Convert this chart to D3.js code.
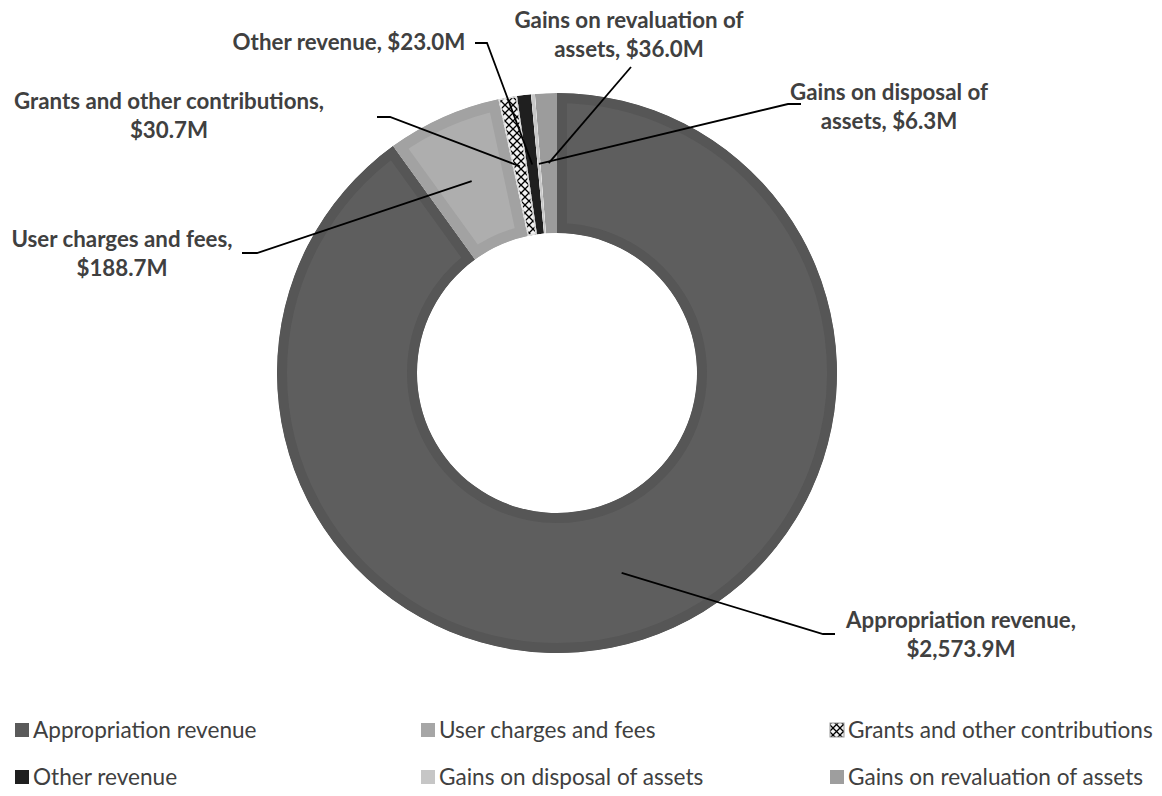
<!DOCTYPE html>
<html>
<head>
<meta charset="utf-8">
<script src="https://cdn.jsdelivr.net/npm/d3@7"></script>
<style>
  body { margin: 0; background: #fff; }
  svg { display: block; }
  text { font-family: Lato, "Open Sans", sans-serif; fill: #404040; }
</style>
</head>
<body>
<svg id="chart" width="1162" height="796"></svg>
<script>
// Revenue composition ($M)
const categories = [
  "Appropriation revenue",
  "User charges and fees",
  "Grants and other contributions",
  "Other revenue",
  "Gains on disposal of assets",
  "Gains on revaluation of assets"
];
const values = [2573.9, 188.7, 30.7, 23.0, 6.3, 36.0];
// words of each data label that go on its first line
const firstLineWords = [2, 4, 4, 3, 4, 4];

const fills   = ["#5e5e5e", "#aeaeae", "url(#hatch)", "#1f1f1f", "#c8c8c8", "#9c9c9c"];
const borders = ["#565656", "#a2a2a2", "#e0e0e0", "#1f1f1f", "#c8c8c8", "#9c9c9c"];
const borderWidths = [20, 22, 3, 0, 0, 0];
const legendFills = ["#5a5a5a", "#a6a6a6", "url(#hatchSmall)", "#1f1f1f", "#c6c6c6", "#9e9e9e"];

const svg = d3.select("#chart");
const cx = 557, cy = 373, rOuter = 280, rInner = 140;

// cross-hatch patterns
const defs = svg.append("defs");
function hatch(id, s) {
  const p = defs.append("pattern").attr("id", id)
    .attr("patternUnits", "userSpaceOnUse").attr("width", s).attr("height", s);
  p.append("rect").attr("width", s).attr("height", s).attr("fill", "#f2f2f2");
  p.append("path").attr("d", `M0,0L${s},${s}M${s},0L0,${s}`)
    .attr("stroke", "#000").attr("stroke-width", 1.3);
}
hatch("hatch", 8);
hatch("hatchSmall", 7);

const fmt = d3.format(",.1f");
const pie = d3.pie().sort(null).value(d => d).startAngle(0).endAngle(2 * Math.PI);
const arcs = pie(values);
const arc = d3.arc().innerRadius(rInner).outerRadius(rOuter);
const midArc = d3.arc().innerRadius((rInner + rOuter) / 2).outerRadius((rInner + rOuter) / 2);

const g = svg.append("g").attr("transform", `translate(${cx},${cy})`);

arcs.forEach((a, i) => {
  defs.append("clipPath").attr("id", "clip" + i)
    .append("path").attr("d", arc(a));
  g.append("path")
    .attr("d", arc(a))
    .attr("fill", fills[i])
    .attr("stroke", borderWidths[i] ? borders[i] : "none")
    .attr("stroke-width", borderWidths[i])
    .attr("clip-path", `url(#clip${i})`);
});

// data label placement: first baseline and leader-line elbow points
const labelLayout = [
  { x: 961, y: 628, elbow: [[835, 634], [823, 634]] },
  { x: 122, y: 247, elbow: [[242, 253], [257, 253]] },
  { x: 169, y: 109, elbow: [[377, 117], [390, 117]] },
  { x: 349, y: 50,  elbow: [[475, 43], [487, 43]] },
  { x: 889, y: 100, elbow: [[801, 104], [788, 104]] },
  { x: 629, y: 28,  elbow: [[631, 67]] }
];
const lineGap = 28.5;

arcs.forEach((a, i) => {
  const L = labelLayout[i];
  const c = midArc.centroid(a);
  const pts = L.elbow.concat([[cx + c[0], cy + c[1]]]);
  svg.append("path")
    .attr("d", d3.line()(pts))
    .attr("fill", "none").attr("stroke", "#000").attr("stroke-width", 1.8);

  const words = `${categories[i]}, $${fmt(values[i])}M`.split(" ");
  const n = firstLineWords[i];
  const lines = n >= words.length ? [words.join(" ")]
    : [words.slice(0, n).join(" "), words.slice(n).join(" ")];
  const t = svg.append("text")
    .attr("text-anchor", "middle")
    .attr("font-weight", "bold")
    .attr("font-size", 22.3);
  lines.forEach((s, k) => t.append("tspan").attr("x", L.x).attr("y", L.y + k * lineGap).text(s));
});

// legend: three columns, two rows
const legCols = [15, 421, 830], legRows = [730, 777];
categories.forEach((name, i) => {
  const x = legCols[i % 3], y = legRows[Math.floor(i / 3)];
  svg.append("rect").attr("x", x).attr("y", y - 7).attr("width", 14).attr("height", 14)
    .attr("fill", legendFills[i])
    .attr("stroke", i === 2 ? "#9a9a9a" : "none").attr("stroke-width", 1);
  svg.append("text").attr("x", x + 18).attr("y", y + 8)
    .attr("font-size", 22.6).text(name);
});
</script>
</body>
</html>
